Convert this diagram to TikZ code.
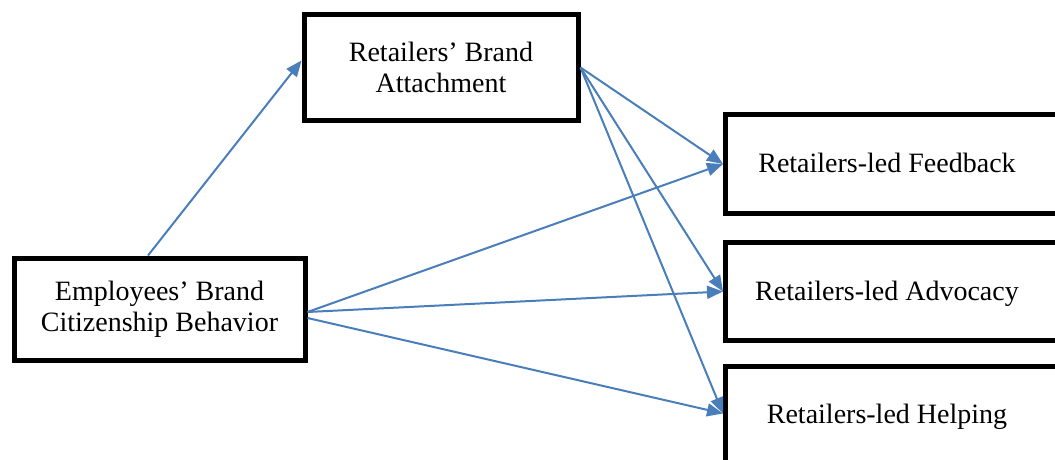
\documentclass[tikz,border=0pt]{standalone}
\usepackage{fontspec}
\setmainfont{Liberation Serif}
\usepackage{xcolor}
\usetikzlibrary{arrows.meta}

\definecolor{linkblue}{RGB}{74,126,187}

\begin{document}
\begin{tikzpicture}[x=1pt, y=-1pt,
    box/.style={draw, line width=5pt, rectangle, inner sep=0pt},
    lbl/.style={font=\fontsize{28}{31}\selectfont, align=center},
    link/.style={linkblue, line width=2pt, -{Triangle[length=16pt, width=13pt]}}]
    \useasboundingbox (0,0) rectangle (1055,460);

    \node[box, lbl, minimum width=274pt, minimum height=105pt] (rba) at (441,67.5) {Retailers’ Brand\\Attachment};
    \node[box, lbl, minimum width=291pt, minimum height=102pt] (ebcb) at (159.5,309) {Employees’ Brand\\Citizenship Behavior};

    \node[box, minimum width=360pt, minimum height=99pt, anchor=north west] (rlf) at (723,112) {};
    \node[box, minimum width=360pt, minimum height=98pt, anchor=north west] (rla) at (723,240) {};
    \node[box, minimum width=360pt, minimum height=100pt, anchor=north west] (rlh) at (723,364) {};

    \node[lbl, anchor=base] (rlftext) at (887,172) {Retailers-led Feedback};
    \node[lbl, anchor=base] (rlatext) at (887,300) {Retailers-led Advocacy};
    \node[lbl, anchor=base] (rlhtext) at (887,423) {Retailers-led Helping};

    \draw[link] ([xshift=-11.5pt]ebcb.north) -- ([yshift=7pt]rba.west);

    \draw[link] (rba.east) -- (rlf.west);
    \draw[link] (rba.east) -- (rla.west);
    \draw[link] (rba.east) -- ([yshift=3pt]rlh.west);

    \draw[link] ([yshift=-3pt]ebcb.east) -- (rlf.west);
    \draw[link] ([yshift=-3pt]ebcb.east) -- (rla.west);
    \draw[link] ([yshift=-9pt]ebcb.east) -- ([yshift=3pt]rlh.west);
\end{tikzpicture}
\end{document}
